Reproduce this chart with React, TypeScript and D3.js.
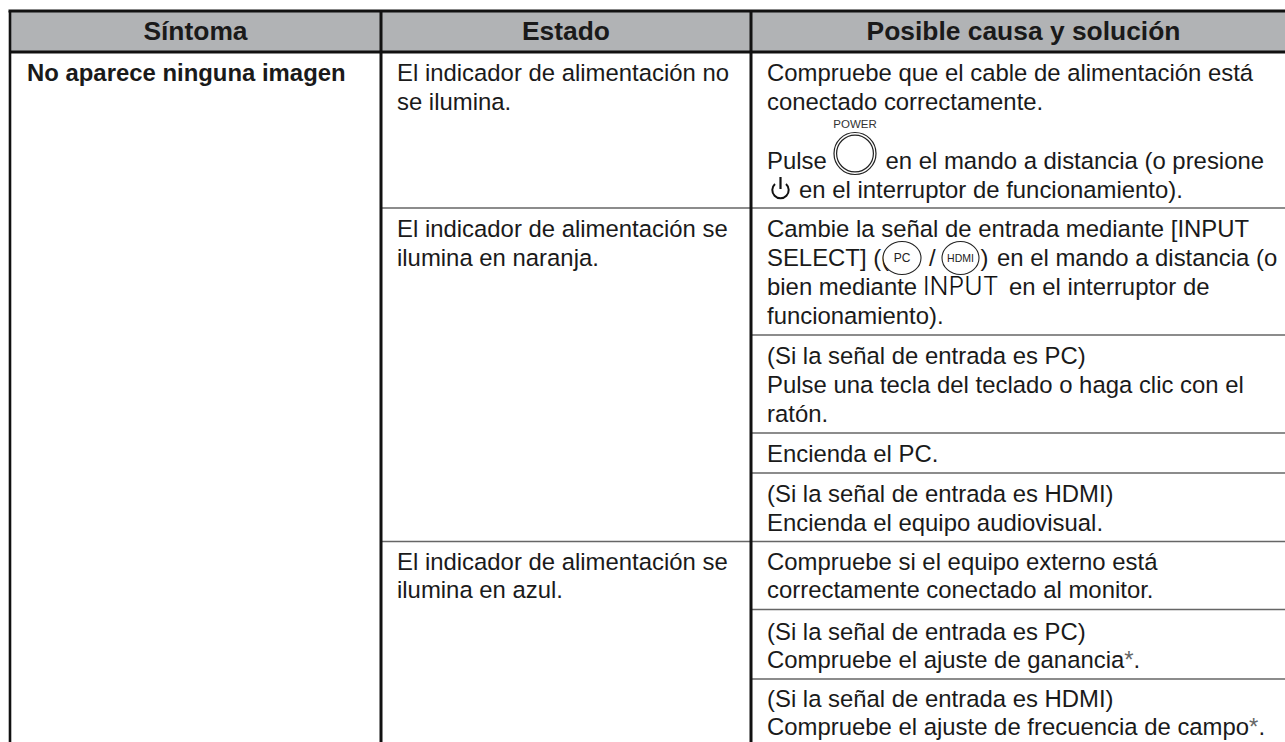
import React from "react";
import * as d3 from "d3";

const headers = ["Síntoma", "Estado", "Posible causa y solución"];
const symptom = "No aparece ninguna imagen";
const states = [
  ["El indicador de alimentación no", "se ilumina."],
  ["El indicador de alimentación se", "ilumina en naranja."],
  ["El indicador de alimentación se", "ilumina en azul."],
];
const plainSolutions = [
  ["Compruebe que el cable de alimentación está", "conectado correctamente."],
  ["Cambie la señal de entrada mediante [INPUT"],
  ["funcionamiento)."],
  ["(Si la señal de entrada es PC)", "Pulse una tecla del teclado o haga clic con el", "ratón."],
  ["Encienda el PC."],
  ["(Si la señal de entrada es HDMI)", "Encienda el equipo audiovisual."],
  ["Compruebe si el equipo externo está", "correctamente conectado al monitor."],
  ["(Si la señal de entrada es PC)", "Compruebe el ajuste de ganancia*."],
  ["(Si la señal de entrada es HDMI)", "Compruebe el ajuste de frecuencia de campo*."],
];
const inlineRuns = [
  { text: "Pulse", at: 0 },
  { text: "en el mando a distancia (o presione", at: 1 },
  { text: "en el interruptor de funcionamiento).", at: 2 },
  { text: "SELECT] ((", at: 3 },
  { text: "/", at: 4 },
  { text: ")", at: 5 },
  { text: "en el mando a distancia (o", at: 6 },
  { text: "bien mediante", at: 7 },
  { text: "en el interruptor de", at: 8 },
];

// layout
const W = 1285, H = 742;
const colEdges = [10, 381, 751, 1296];
const rowEdges = [11, 52, 208, 335, 433, 473, 541.5, 609.5, 679];
const fullWidthRows = [208, 541.5];
const stateBaselines = [[81, 110], [237, 266], [570, 598]];
const solutionBaselines = [[81, 110], [237], [324], [364, 393, 422], [462], [502, 531], [570, 598], [640, 668], [707, 735]];
const runX = [767, 885.5, 799, 767, 929, 980.5, 997, 767, 1009];
const runY = [169, 169, 198, 266, 266, 266, 266, 295, 295];

const FONT = "'Liberation Sans', Arial, sans-serif";
const INK = "#1a1a1a";
const BODY = 23.9;
const HEAD = 26.4;

export default function App() {
  const col = d3.scaleOrdinal<number, number>().domain([0, 1, 2]).range([0, 1, 2].map((i) => (colEdges[i] + colEdges[i + 1]) / 2));
  const star = (s: string) => {
    const i = s.indexOf("*");
    if (i < 0) return s;
    return (
      <>
        {s.slice(0, i)}
        <tspan fill="#666">*</tspan>
        {s.slice(i + 1)}
      </>
    );
  };
  return (
    <svg width={W} height={H} style={{ position: "fixed", left: 0, top: 0, background: "#fff" }} fontFamily={FONT}>
      <rect x={colEdges[0]} y={rowEdges[0]} width={W} height={rowEdges[1] - rowEdges[0]} fill="#b1b3b5" />

      {rowEdges.slice(2).map((y, i) => (
        <line key={i} x1={fullWidthRows.includes(y) ? colEdges[1] : colEdges[2]} x2={W} y1={y} y2={y} stroke="#666" strokeWidth={1.7} />
      ))}
      <line x1={colEdges[0] - 1.5} x2={W} y1={rowEdges[0]} y2={rowEdges[0]} stroke="#111" strokeWidth={3} />
      <line x1={colEdges[0]} x2={W} y1={rowEdges[1]} y2={rowEdges[1]} stroke="#111" strokeWidth={3.2} />
      {colEdges.slice(0, 3).map((x, i) => (
        <line key={i} x1={x} x2={x} y1={rowEdges[0]} y2={H} stroke="#111" strokeWidth={i === 0 ? 2.6 : 3} />
      ))}

      {headers.map((h, i) => (
        <text key={h} x={col(i)} y={40} textAnchor="middle" fontWeight={700} fontSize={HEAD} fill={INK}>{h}</text>
      ))}
      <text x={27} y={81} fontWeight={700} fontSize={BODY} fill={INK}>{symptom}</text>

      {states.map((lines, i) =>
        lines.map((l, j) => (
          <text key={`${i}-${j}`} x={397} y={stateBaselines[i][j]} fontSize={BODY} fill={INK}>{l}</text>
        ))
      )}
      {plainSolutions.map((lines, i) =>
        lines.map((l, j) => (
          <text key={`${i}-${j}`} x={767} y={solutionBaselines[i][j]} fontSize={BODY} fill={INK}>{star(l)}</text>
        ))
      )}
      {inlineRuns.map((r) => (
        <text key={r.at} x={runX[r.at]} y={runY[r.at]} fontSize={BODY} fill={INK}>{r.text}</text>
      ))}

      {/* POWER button */}
      <text x={855} y={128} textAnchor="middle" fontSize={11.5} fill="#333">POWER</text>
      <circle cx={855} cy={153.5} r={21} fill="none" stroke="#222" strokeWidth={1.2} />
      <circle cx={855} cy={153.5} r={18.4} fill="none" stroke="#222" strokeWidth={1.2} />

      {/* power symbol */}
      <path d="M775 184 A8.2 8.2 0 1 0 786 184" fill="none" stroke="#111" strokeWidth={2} />
      <line x1={780.5} x2={780.5} y1={177} y2={189} stroke="#111" strokeWidth={2.2} />

      {/* remote keys */}
      <ellipse cx={902} cy={258} rx={19} ry={16.5} fill="#fff" stroke="#222" strokeWidth={1.1} />
      <text x={902} y={262} textAnchor="middle" fontSize={12} fill="#222">PC</text>
      <ellipse cx={960.5} cy={258} rx={18.5} ry={16.5} fill="#fff" stroke="#222" strokeWidth={1.1} />
      <text x={960.5} y={262} textAnchor="middle" fontSize={10.5} fill="#222">HDMI</text>

      {/* INPUT label */}
      <text x={923} y={295} fontFamily="Inter, 'Liberation Sans', sans-serif" fontWeight={300} fontSize={25} fill="#111">INPUT</text>
    </svg>
  );
}
